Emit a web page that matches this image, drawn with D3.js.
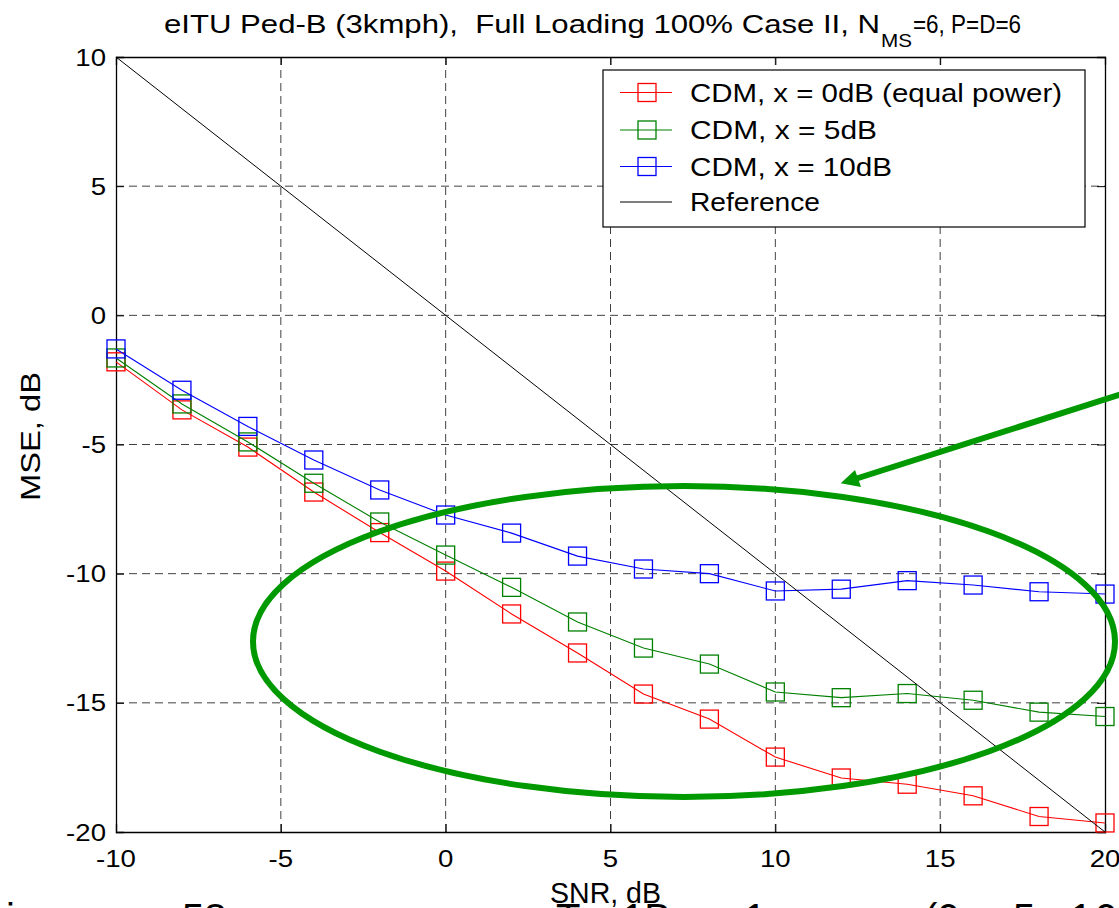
<!DOCTYPE html>
<html><head><meta charset="utf-8">
<script src="https://cdn.jsdelivr.net/npm/d3@7"></script>
<style>
html,body{margin:0;padding:0;background:#fff;}
svg{display:block;font-family:"Liberation Sans",Arial,Helvetica,sans-serif;}
text{white-space:pre;}
</style></head>
<body>
<svg id="chart" width="1119" height="908"></svg>
<script>
// ---- data ----
const snr = [-10,-8,-6,-4,-2,0,2,4,6,8,10,12,14,16,18,20];
const mse0dB  = [-1.8,-3.66,-5.1,-6.84,-8.41,-9.9,-11.56,-13.07,-14.66,-15.63,-17.1,-17.91,-18.15,-18.6,-19.4,-19.65];
const mse5dB  = [-1.65,-3.43,-4.9,-6.5,-8.0,-9.28,-10.53,-11.87,-12.88,-13.5,-14.58,-14.8,-14.64,-14.9,-15.36,-15.53];
const mse10dB = [-1.3,-2.9,-4.3,-5.6,-6.76,-7.73,-8.43,-9.32,-9.82,-10.0,-10.67,-10.6,-10.27,-10.44,-10.7,-10.79];
const refSnr = [-10, 20];
const refMse = [10, -20];
const xTicks = [-10,-5,0,5,10,15,20];
const yTicks = [10,5,0,-5,-10,-15,-20];
const seriesNames = ["CDM, x = 0dB (equal power)","CDM, x = 5dB","CDM, x = 10dB","Reference"];
const seriesColors = ["#ff0000","#008000","#0000ff","#000000"];

const svg = d3.select("#chart");
svg.append("rect").attr("width",1119).attr("height",908).attr("fill","#fff");

const L=116, R=1105, T=57, B=832;
const x = d3.scaleLinear().domain([-10,20]).range([L,R]);
const y = d3.scaleLinear().domain([-20,10]).range([B,T]);

function stext(parent, px, py, str, size, anchor, sx){
  const g = parent.append("g").attr("transform",`translate(${px},${py}) scale(${sx},1)`);
  return g.append("text").attr("x",0).attr("y",0).attr("font-size",size)
    .attr("text-anchor",anchor||"start").attr("fill","#000").text(str);
}

// grid
const grid = svg.append("g");
grid.selectAll("line.gx").data(xTicks.slice(1,-1)).join("line")
  .attr("x1",d=>x(d)).attr("x2",d=>x(d)).attr("y1",T).attr("y2",B)
  .attr("stroke","#000").attr("stroke-opacity",0.75).attr("stroke-width",1).attr("stroke-dasharray","8,5");
grid.selectAll("line.gy").data(yTicks.slice(1,-1)).join("line")
  .attr("y1",d=>y(d)).attr("y2",d=>y(d)).attr("x1",L).attr("x2",R)
  .attr("stroke","#000").attr("stroke-opacity",0.75).attr("stroke-width",1).attr("stroke-dasharray","8,5");

// axes (inner ticks on all four sides)
const axB = d3.axisBottom(x).tickValues(xTicks).tickSize(-8).tickFormat("");
const axT = d3.axisTop(x).tickValues(xTicks).tickSize(-8).tickFormat("");
const axLf = d3.axisLeft(y).tickValues(yTicks).tickSize(-8).tickFormat("");
const axRt = d3.axisRight(y).tickValues(yTicks).tickSize(-8).tickFormat("");
[[axB,`translate(0,${B})`],[axT,`translate(0,${T})`],[axLf,`translate(${L},0)`],[axRt,`translate(${R},0)`]].forEach(([a,tr])=>{
  const g = svg.append("g").attr("transform",tr).call(a);
  g.select(".domain").attr("stroke","#000").attr("stroke-width",1.3);
  g.selectAll(".tick line").attr("stroke","#000").attr("stroke-width",1);
});

// tick labels
const tl = svg.append("g");
xTicks.forEach(v=> stext(tl, x(v), 867, String(v), 24, "middle", 1.15));
yTicks.forEach(v=> stext(tl, 106, y(v)+8.5, String(v), 24, "end", 1.15));

// series
const lineGen = d3.line().x(d=>x(d[0])).y(d=>y(d[1]));
const series = [mse0dB, mse5dB, mse10dB];
const plot = svg.append("g");
series.forEach((vals,i)=>{
  const pts = snr.map((s,j)=>[s, vals[j]]);
  plot.append("path").datum(pts).attr("d",lineGen).attr("fill","none")
    .attr("stroke",seriesColors[i]).attr("stroke-width",1.1);
  plot.selectAll(null).data(pts).join("rect")
    .attr("x",d=>x(d[0])-9).attr("y",d=>y(d[1])-9).attr("width",18).attr("height",18)
    .attr("fill","none").attr("stroke",seriesColors[i]).attr("stroke-width",1.3);
});
plot.append("path").datum(refSnr.map((s,j)=>[s,refMse[j]])).attr("d",lineGen)
  .attr("fill","none").attr("stroke","#000").attr("stroke-width",1);

// legend
const lg = svg.append("g");
lg.append("rect").attr("x",603).attr("y",70).attr("width",482).attr("height",157)
  .attr("fill","#fff").attr("stroke","#000").attr("stroke-width",1.2);
const rowBase = [101.5, 139, 175.5, 211];
const textLens = [372, 187, 202, 130];
seriesNames.forEach((nm,i)=>{
  const cy = rowBase[i]-9;
  lg.append("line").attr("x1",620).attr("x2",672).attr("y1",cy).attr("y2",cy)
    .attr("stroke",seriesColors[i]).attr("stroke-width",1.1);
  if(i<3){
    lg.append("rect").attr("x",647-9).attr("y",cy-9).attr("width",18).attr("height",18)
      .attr("fill","none").attr("stroke",seriesColors[i]).attr("stroke-width",1.3);
  }
  lg.append("text").attr("x",690).attr("y",rowBase[i]).attr("font-size",26)
    .attr("textLength",textLens[i]).attr("lengthAdjust","spacingAndGlyphs").text(nm);
});

// title (three pieces: main, subscript, tail)
svg.append("text").attr("x",164).attr("y",33).attr("font-size",25.5)
  .attr("textLength",716).attr("lengthAdjust","spacingAndGlyphs")
  .text("eITU Ped-B (3kmph),  Full Loading 100% Case II, N");
svg.append("text").attr("x",881).attr("y",46.5).attr("font-size",19)
  .attr("textLength",31).attr("lengthAdjust","spacingAndGlyphs").text("MS");
svg.append("text").attr("x",913).attr("y",33).attr("font-size",25.5)
  .attr("textLength",108).attr("lengthAdjust","spacingAndGlyphs").text("=6, P=D=6");

// axis labels
svg.append("text").attr("x",550).attr("y",903).attr("font-size",29)
  .attr("textLength",111).attr("lengthAdjust","spacingAndGlyphs").text("SNR, dB");
svg.append("text").attr("transform","translate(40,501) rotate(-90)").attr("font-size",28)
  .attr("textLength",129).attr("lengthAdjust","spacingAndGlyphs").text("MSE, dB");

// annotation: green ellipse and arrow
const ann = svg.append("g");
ann.append("ellipse").attr("cx",684).attr("cy",641.5).attr("rx",431).attr("ry",155.5)
  .attr("fill","none").attr("stroke","#009900").attr("stroke-width",6);
ann.append("line").attr("x1",1125).attr("y1",393).attr("x2",852).attr("y2",480)
  .attr("stroke","#009900").attr("stroke-width",6);
ann.append("path").attr("d","M840.7,483.3 L855,470 L861,487 Z").attr("fill","#009900");

// caption (clipped at bottom of picture)
const cap = svg.append("text").attr("y",932).attr("font-size",40).attr("fill","#000");
[["i",6],["58",182],["T",556],["1B",622],["1",744],["(0,",924],["5,",1013],["1",1070],["0",1095]].forEach(([s,px])=>{
  cap.append("tspan").attr("x",px).text(s);
});
</script>
</body></html>
